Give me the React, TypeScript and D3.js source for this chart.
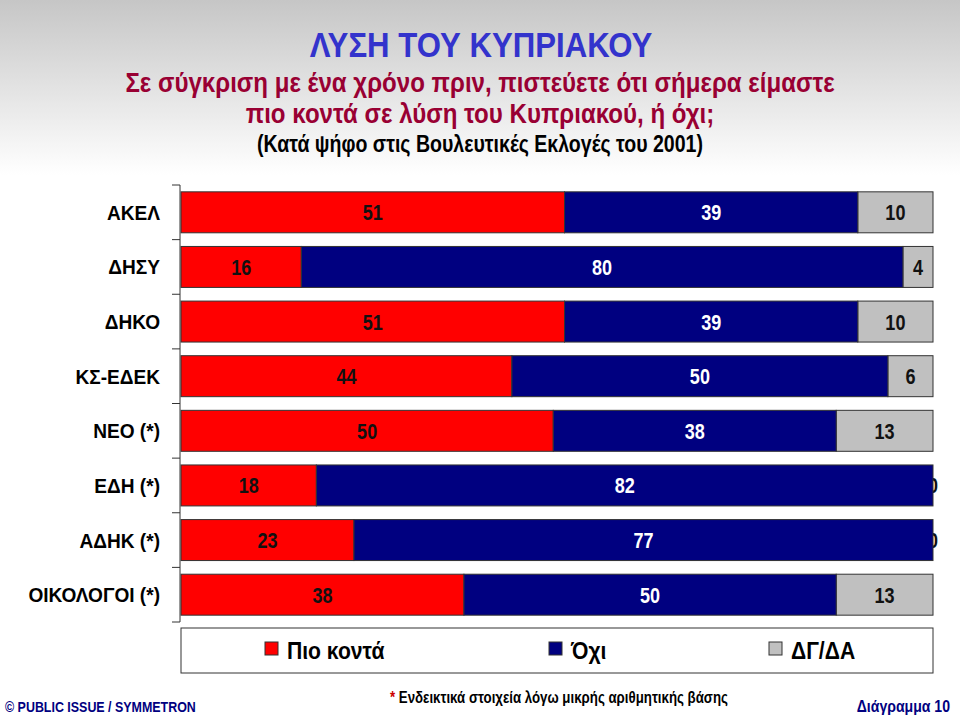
import React from "react";
import { scaleBand, scaleLinear, stack } from "d3";

const categories = ["ΑΚΕΛ", "ΔΗΣΥ", "ΔΗΚΟ", "ΚΣ-ΕΔΕΚ", "ΝΕΟ (*)", "ΕΔΗ (*)", "ΑΔΗΚ (*)", "ΟΙΚΟΛΟΓΟΙ (*)"];
const closer = [51, 16, 51, 44, 50, 18, 23, 38];
const no = [39, 80, 39, 50, 38, 82, 77, 50];
const dkna = [10, 4, 10, 6, 13, 0, 0, 13];

const seriesNames = ["Πιο κοντά", "Όχι", "ΔΓ/ΔΑ"];
const colors = ["#ff0000", "#000080", "#c0c0c0"];
const labelColors = ["#111", "#fff", "#111"];

const width = 960;
const height = 715;
const font = "'Liberation Sans', Arial, sans-serif";

// squeezed text, stand-in for Arial Narrow
const T = ({ x, y, sx = 0.85, children, ...rest }: any) => (
  <text transform={`translate(${x},${y}) scale(${sx},1)`} fontWeight="bold" {...rest}>
    {children}
  </text>
);

export default function App() {
  // normalise each row to 100%
  const rows = categories.map((c, i) => {
    const total = closer[i] + no[i] + dkna[i];
    return {
      cat: c,
      s0: (closer[i] / total) * 100,
      s1: (no[i] / total) * 100,
      s2: (dkna[i] / total) * 100,
      raw: [closer[i], no[i], dkna[i]],
    };
  });
  const series = stack<any>().keys(["s0", "s1", "s2"])(rows);

  const yScale = scaleBand().domain(categories).range([185, 622]).paddingInner(0.25).paddingOuter(0.125);
  const xScale = scaleLinear().domain([0, 100]).range([181, 933]);

  const axisX = 180;
  const order = [0, 2, 1]; // blue last so it covers zero labels at the end

  return (
    <svg width={width} height={height} style={{ position: "absolute", left: 0, top: 0 }} fontFamily={font}>
      <defs>
        <linearGradient id="bg" x1="0" y1="0" x2="0" y2="1">
          <stop offset="0" stopColor="#c6c6c6" />
          <stop offset="1" stopColor="#ffffff" />
        </linearGradient>
      </defs>
      <rect x={0} y={0} width={width} height={height} fill="#fff" />
      <rect x={0} y={0} width={width} height={175} fill="url(#bg)" />

      <T x={481} y={57} sx={0.89} textAnchor="middle" fontSize={35} fill="#3333cc">
        ΛΥΣΗ ΤΟΥ ΚΥΠΡΙΑΚΟΥ
      </T>
      <T x={480} y={92} sx={0.86} textAnchor="middle" fontSize={28} fill="#990033">
        Σε σύγκριση με ένα χρόνο πριν, πιστεύετε ότι σήμερα είμαστε
      </T>
      <T x={480} y={123} sx={0.86} textAnchor="middle" fontSize={28} fill="#990033">
        πιο κοντά σε λύση του Κυπριακού, ή όχι;
      </T>
      <T x={480} y={152} sx={0.85} textAnchor="middle" fontSize={23} fill="#000">
        (Κατά ψήφο στις Βουλευτικές Εκλογές του 2001)
      </T>

      {/* category axis */}
      <line x1={axisX} x2={axisX} y1={185} y2={622} stroke="#333" />
      {[...categories.map((c) => yScale(c)! - (yScale.step() * yScale.paddingInner()) / 2), 622].map((y, i) => (
        <line key={i} x1={axisX - 8} x2={axisX} y1={y} y2={y} stroke="#333" />
      ))}
      {categories.map((c) => (
        <T
          key={c}
          x={160}
          y={yScale(c)! + yScale.bandwidth() / 2 + 7.5}
          sx={0.91}
          textAnchor="end"
          fontSize={21}
          fill="#000"
        >
          {c}
        </T>
      ))}

      {order.map((si) => (
        <g key={si}>
          {series[si].map((d, i) => (
            <rect
              key={i}
              x={xScale(d[0])}
              y={yScale(categories[i])}
              width={xScale(d[1]) - xScale(d[0])}
              height={yScale.bandwidth()}
              fill={colors[si]}
              stroke="#333"
              strokeWidth={1}
            />
          ))}
          {series[si].map((d, i) => (
            <T
              key={"t" + i}
              x={(xScale(d[0]) + xScale(d[1])) / 2}
              y={yScale(categories[i])! + yScale.bandwidth() / 2 + 8}
              sx={0.82}
              textAnchor="middle"
              fontSize={22}
              fill={labelColors[si]}
            >
              {rows[i].raw[si]}
            </T>
          ))}
        </g>
      ))}

      {/* legend */}
      <rect x={181} y={628} width={752} height={45} fill="#fff" stroke="#333" />
      {seriesNames.map((n, i) => {
        const lx = [265, 549, 769][i];
        return (
          <g key={n}>
            <rect x={lx} y={642} width={13} height={13} fill={colors[i]} stroke="#333" />
            <T x={lx + 22} y={659} sx={0.88} fontSize={24} fill="#000">
              {n}
            </T>
          </g>
        );
      })}

      {/* footer */}
      <T x={5} y={712} sx={0.83} fontSize={15} fill="#000080">
        © PUBLIC ISSUE / SYMMETRON
      </T>
      <T x={390} y={703} sx={0.83} fontSize={16} fill="#000">
        <tspan fill="#cc0000">*</tspan> Ενδεικτικά στοιχεία λόγω μικρής αριθμητικής βάσης
      </T>
      <T x={950} y={712} sx={0.88} textAnchor="end" fontSize={16} fill="#000080">
        Διάγραμμα 10
      </T>
    </svg>
  );
}
